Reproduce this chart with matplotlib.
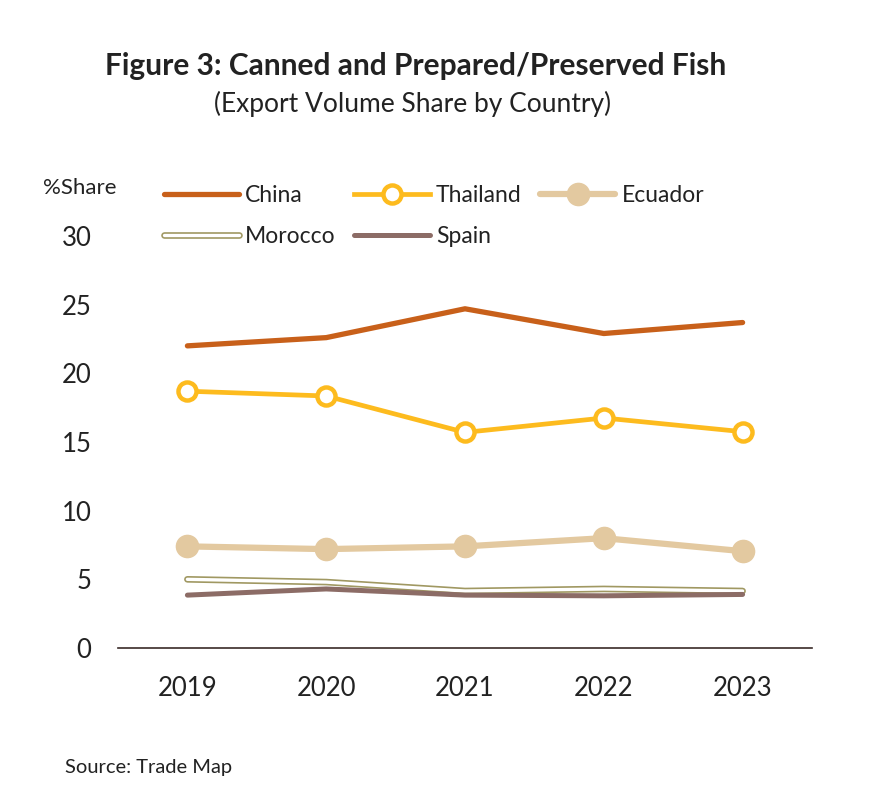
import matplotlib.pyplot as plt
from matplotlib.legend_handler import HandlerTuple

years = ["2019", "2020", "2021", "2022", "2023"]
china = [22.0, 22.6, 24.7, 22.9, 23.7]
thailand = [18.7, 18.35, 15.7, 16.75, 15.75]
ecuador = [7.4, 7.2, 7.4, 8.0, 7.05]
morocco = [5.0, 4.8, 4.15, 4.3, 4.15]
spain = [3.85, 4.3, 3.85, 3.8, 3.9]

plt.rcParams['font.family'] = ['Lato', 'DejaVu Sans']

fig = plt.figure(figsize=(8.7, 8.06), dpi=100)
ax = fig.add_axes([118 / 870, 1 - 648 / 806, 694 / 870, 412 / 806])

x = range(len(years))

l_china, = ax.plot(x, china, color='#C8601A', lw=3.8, solid_capstyle='round', zorder=5)
l_thai, = ax.plot(x, thailand, color='#FDBB1E', lw=3.4, marker='o', ms=13,
                  mfc='white', mec='#FDBB1E', mew=3.2, zorder=5)
l_ecu, = ax.plot(x, ecuador, color='#E3C9A0', lw=4.5, marker='o', ms=16,
                 mfc='#E3C9A0', mec='#E3C9A0', solid_capstyle='round', zorder=4)
l_mor_out, = ax.plot(x, morocco, color='#A09862', lw=4.8, solid_capstyle='round', zorder=3)
l_mor_in, = ax.plot(x, morocco, color='white', lw=2.4, solid_capstyle='round', zorder=3)
l_spain, = ax.plot(x, spain, color='#8C6C66', lw=3.6, solid_capstyle='round', zorder=3.5)

ax.set_xlim(-0.5, 4.5)
ax.set_ylim(0, 30)
ax.set_yticks([0, 5, 10, 15, 20, 25, 30])
ax.set_xticks(list(x))
ax.set_xticklabels(years)

for side in ['top', 'right', 'left']:
    ax.spines[side].set_visible(False)
ax.spines['bottom'].set_color('#3A2A28')
ax.spines['bottom'].set_linewidth(1.2)
ax.tick_params(axis='both', length=0, labelsize=18.5, colors='#222222')
ax.tick_params(axis='y', pad=19)
ax.tick_params(axis='x', pad=20)

handles = [l_china, (l_mor_out, l_mor_in), l_thai, l_spain, l_ecu]
labels = ["China", "Morocco", "Thailand", "Spain", "Ecuador"]
fig.legend(handles, labels, ncol=3, frameon=False, fontsize=16.5,
           loc='upper left', bbox_to_anchor=(143 / 870, 1 - 164 / 806),
           handlelength=3.3, handletextpad=0.26, columnspacing=0.8,
           labelspacing=0.9, handler_map={tuple: HandlerTuple(ndivide=1)},
           labelcolor='#222222')

fig.text(0.478, 1 - 66 / 806, "Figure 3: Canned and Prepared/Preserved Fish",
         ha='center', va='center', fontsize=21.5, fontweight='bold', color='#222222')
fig.text(0.474, 1 - 104 / 806, "(Export Volume Share by Country)",
         ha='center', va='center', fontsize=19, color='#222222')
fig.text(80 / 870, 1 - 188 / 806, "%Share", ha='center', va='center',
         fontsize=16, color='#222222')
fig.text(65 / 870, 1 - 768 / 806, "Source: Trade Map", ha='left', va='center',
         fontsize=14.5, color='#222222')

fig.savefig('out.png', dpi=100)
